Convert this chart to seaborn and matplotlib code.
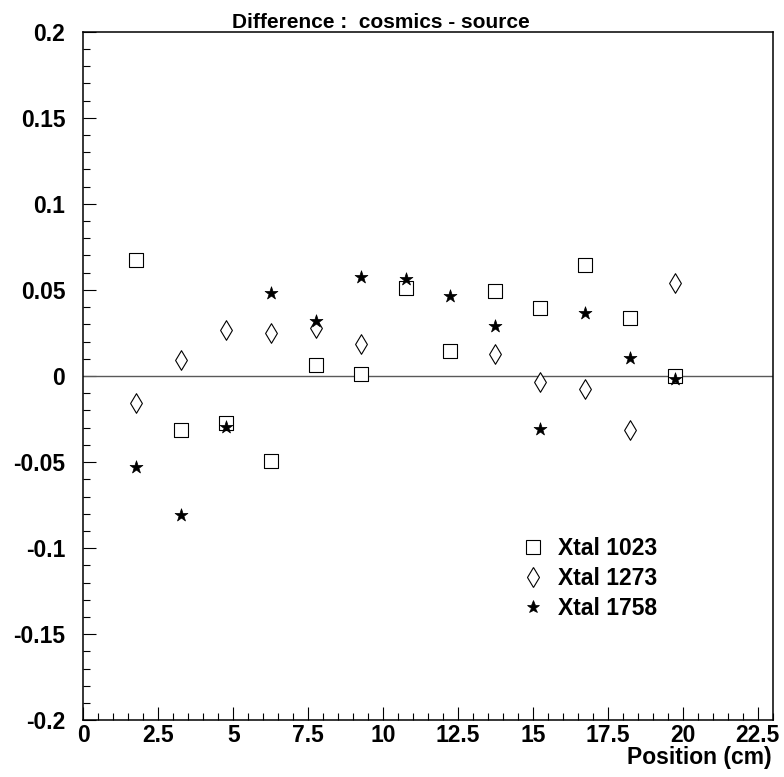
import matplotlib
matplotlib.use("Agg")
import matplotlib.pyplot as plt
import seaborn as sns
import numpy as np
import pandas as pd
from matplotlib.ticker import MultipleLocator, FixedLocator, FixedFormatter
from matplotlib.lines import Line2D

# ---------------- data ----------------
positions = [1.75, 3.25, 4.75, 6.25, 7.75, 9.25, 10.75, 12.25, 13.75, 15.25, 16.75, 18.25, 19.75]
xtal_1023 = [0.0673, -0.0316, -0.0271, -0.0496, 0.0064, 0.0014, 0.0514, 0.0145, 0.0494, 0.0397, 0.0647, 0.0339, 0.0000]
xtal_1273 = [-0.0155, 0.0091, 0.0270, 0.0250, 0.0281, 0.0184, np.nan, np.nan, 0.0130, -0.0035, -0.0073, -0.0312, 0.0543]
xtal_1758 = [-0.0529, -0.0810, -0.0296, 0.0485, 0.0320, 0.0576, 0.0562, 0.0465, 0.0291, -0.0306, 0.0366, 0.0107, -0.0015]
series_names = ["Xtal 1023", "Xtal 1273", "Xtal 1758"]

x_ticks = [0, 2.5, 5, 7.5, 10, 12.5, 15, 17.5, 20, 22.5]
x_tick_labels = ["0", "2.5", "5", "7.5", "10", "12.5", "15", "17.5", "20", "22.5"]
y_ticks = [-0.2, -0.15, -0.1, -0.05, 0, 0.05, 0.1, 0.15, 0.2]
y_tick_labels = ["-0.2", "-0.15", "-0.1", "-0.05", "0", "0.05", "0.1", "0.15", "0.2"]
title_text = "Difference :  cosmics - source"
x_label = "Position (cm)"

df = pd.DataFrame({
    "pos": positions * 3,
    "diff": xtal_1023 + xtal_1273 + xtal_1758,
    "series": [series_names[0]] * len(positions) + [series_names[1]] * len(positions) + [series_names[2]] * len(positions),
})

# ---------------- style ----------------
sns.set_style("ticks")
plt.rcParams["font.family"] = ["Liberation Sans", "DejaVu Sans"]
plt.rcParams["font.weight"] = "bold"
plt.rcParams["text.color"] = "black"
plt.rcParams["xtick.color"] = "black"
plt.rcParams["ytick.color"] = "black"
plt.rcParams["xtick.labelcolor"] = "black"
plt.rcParams["ytick.labelcolor"] = "black"

W, H = 784, 777
fig = plt.figure(figsize=(W / 100, H / 100), dpi=100)
ax_l, ax_r, ax_t, ax_b = 83.3, 772.7, 31.7, 720.3
ax = fig.add_axes([ax_l / W, 1 - ax_b / H, (ax_r - ax_l) / W, (ax_b - ax_t) / H])

styles = {
    series_names[0]: dict(marker="s", s=92, facecolor="white", edgecolor="black", linewidth=0.8),
    series_names[1]: dict(marker="d", s=100, facecolor="white", edgecolor="black", linewidth=0.8),
    series_names[2]: dict(marker="*", s=95, facecolor="black", edgecolor="black", linewidth=0.5),
}
for name in series_names:
    sub = df[df["series"] == name].dropna()
    sns.scatterplot(data=sub, x="pos", y="diff", ax=ax, legend=False, zorder=3, **styles[name])

ax.axhline(0, color="0.35", lw=1.0, zorder=2)

ax.set_xlim(0, 23)
ax.set_ylim(-0.2, 0.2)
ax.xaxis.set_major_locator(FixedLocator(x_ticks))
ax.xaxis.set_major_formatter(FixedFormatter(x_tick_labels))
ax.xaxis.set_minor_locator(MultipleLocator(0.5))
ax.yaxis.set_major_locator(FixedLocator(y_ticks))
ax.yaxis.set_major_formatter(FixedFormatter(y_tick_labels))
ax.yaxis.set_minor_locator(MultipleLocator(0.01))

ax.tick_params(which="both", direction="in", top=False, right=False, color="black", labelcolor="black", width=0.8)
ax.tick_params(which="major", length=9.5)
ax.tick_params(which="minor", length=5)
ax.tick_params(axis="x", which="major", pad=3, labelsize=16.5)
ax.tick_params(axis="y", which="major", pad=13, labelsize=16.5)
for lab in ax.get_xticklabels() + ax.get_yticklabels():
    lab.set_fontweight("bold")

for sp in ax.spines.values():
    sp.set_visible(True)
    sp.set_linewidth(1.1)
    sp.set_color("black")

ax.set_xlabel("")
ax.set_ylabel("")

fig.text(771.7 / W, 1 - 764 / H, x_label, ha="right", va="baseline", fontsize=16.5, fontweight="bold", color="black")
fig.text(381 / W, 1 - 28.5 / H, title_text, ha="center", va="baseline", fontsize=15, fontweight="bold", color="black")

handles = [
    Line2D([], [], ls="none", marker="s", markersize=9.6, mfc="white", mec="black", mew=0.8),
    Line2D([], [], ls="none", marker="d", markersize=10, mfc="white", mec="black", mew=0.8),
    Line2D([], [], ls="none", marker="*", markersize=9.7, mfc="black", mec="black", mew=0.5),
]
leg = fig.legend(handles, series_names, loc="upper left",
                 bbox_to_anchor=(521.5 / W, 1 - 537 / H), bbox_transform=fig.transFigure,
                 frameon=False, borderpad=0, borderaxespad=0, handlelength=1.0,
                 handletextpad=0.6, labelspacing=0.3, prop=dict(size=16.5, weight="bold"))
for t in leg.get_texts():
    t.set_color("black")

fig.savefig("out.png", dpi=100)
